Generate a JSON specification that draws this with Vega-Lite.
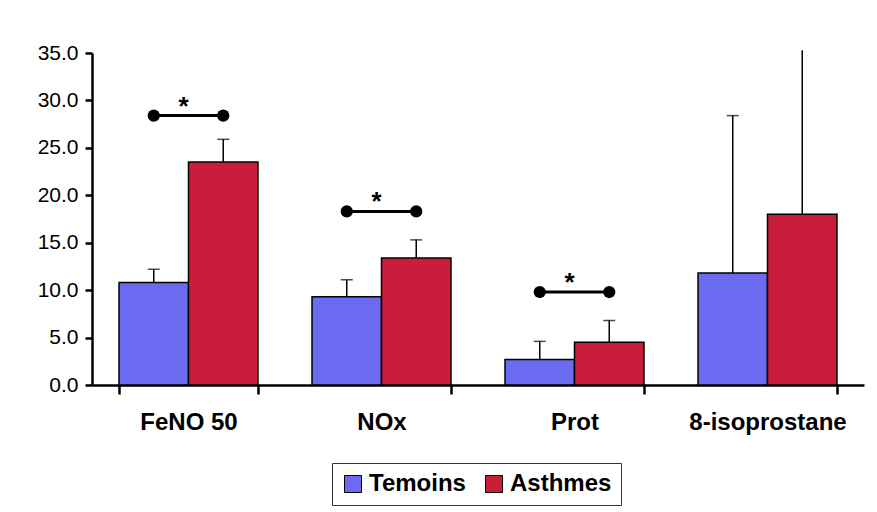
{
  "$schema": "https://vega.github.io/schema/vega-lite/v6.json",
  "width": 772,
  "height": 332,
  "autosize": {"type": "none"},
  "padding": {"left": 92, "top": 53, "right": 13, "bottom": 127},
  "config": {
    "view": {"stroke": null},
    "font": "Liberation Sans",
    "axis": {"grid": false}
  },
  "datasets": {
    "bars": [
      {"cat": "FeNO 50", "group": "Temoins", "mean": 10.8, "upper": 12.2},
      {"cat": "FeNO 50", "group": "Asthmes", "mean": 23.5, "upper": 25.9},
      {"cat": "NOx", "group": "Temoins", "mean": 9.3, "upper": 11.1},
      {"cat": "NOx", "group": "Asthmes", "mean": 13.4, "upper": 15.3},
      {"cat": "Prot", "group": "Temoins", "mean": 2.7, "upper": 4.6},
      {"cat": "Prot", "group": "Asthmes", "mean": 4.5, "upper": 6.8},
      {"cat": "8-isoprostane", "group": "Temoins", "mean": 11.8, "upper": 28.4},
      {"cat": "8-isoprostane", "group": "Asthmes", "mean": 18.0, "upper": 35.3}
    ],
    "sig": [
      {"cat": "FeNO 50", "group": "Temoins", "y": 28.4},
      {"cat": "FeNO 50", "group": "Asthmes", "y": 28.4},
      {"cat": "NOx", "group": "Temoins", "y": 18.3},
      {"cat": "NOx", "group": "Asthmes", "y": 18.3},
      {"cat": "Prot", "group": "Temoins", "y": 9.8},
      {"cat": "Prot", "group": "Asthmes", "y": 9.8}
    ],
    "star": [
      {"cat": "FeNO 50", "y": 28.4, "label": "*"},
      {"cat": "NOx", "y": 18.3, "label": "*"},
      {"cat": "Prot", "y": 9.8, "label": "*"}
    ]
  },
  "encoding": {
    "x": {
      "field": "cat",
      "type": "nominal",
      "sort": ["FeNO 50", "NOx", "Prot", "8-isoprostane"],
      "scale": {"paddingInner": 0.28, "paddingOuter": 0.14},
      "axis": {
        "title": null,
        "labelAngle": 0,
        "labelFontSize": 24,
        "labelFontWeight": "bold",
        "labelColor": "black",
        "labelPadding": 16,
        "domainColor": "black",
        "domainWidth": 2.5,
        "tickColor": "black",
        "tickWidth": 2.5,
        "tickSize": 9,
        "tickBand": "extent"
      }
    }
  },
  "layer": [
    {
      "data": {"name": "bars"},
      "mark": {"type": "bar", "stroke": "black", "strokeWidth": 1.5},
      "encoding": {
        "xOffset": {"field": "group", "sort": ["Temoins", "Asthmes"], "scale": {"paddingInner": 0}},
        "y": {
          "field": "mean",
          "type": "quantitative",
          "scale": {"domain": [0, 35]},
          "axis": {
            "title": null,
            "values": [0, 5, 10, 15, 20, 25, 30, 35],
            "format": ".1f",
            "labelFontSize": 21,
            "labelColor": "black",
            "labelPadding": 7,
            "domainColor": "black",
            "domainWidth": 2.5,
            "tickColor": "black",
            "tickWidth": 2.5,
            "tickSize": 7
          }
        },
        "color": {
          "field": "group",
          "type": "nominal",
          "sort": ["Temoins", "Asthmes"],
          "scale": {"domain": ["Temoins", "Asthmes"], "range": ["#6B6BF2", "#C81E3C"]},
          "legend": {
            "orient": "none",
            "legendX": 240,
            "legendY": 410,
            "direction": "horizontal",
            "title": null,
            "labelFontSize": 24,
            "labelFontWeight": "bold",
            "labelColor": "black",
            "symbolType": "square",
            "symbolSize": 289,
            "symbolStrokeColor": "black",
            "symbolStrokeWidth": 1,
            "symbolOpacity": 1,
            "strokeColor": "#333333",
            "fillColor": "white",
            "padding": 9,
            "columnPadding": 16,
            "labelOffset": 4
          }
        }
      }
    },
    {
      "data": {"name": "bars"},
      "mark": {"type": "rule", "color": "black", "strokeWidth": 1.5},
      "encoding": {
        "xOffset": {"field": "group", "sort": ["Temoins", "Asthmes"]},
        "y": {"field": "mean", "type": "quantitative"},
        "y2": {"field": "upper"}
      }
    },
    {
      "data": {"name": "bars"},
      "transform": [{"filter": "datum.upper <= 35"}],
      "mark": {"type": "tick", "color": "black", "size": 12, "thickness": 1.5},
      "encoding": {
        "xOffset": {"field": "group", "sort": ["Temoins", "Asthmes"]},
        "y": {"field": "upper", "type": "quantitative"}
      }
    },
    {
      "data": {"name": "sig"},
      "mark": {"type": "line", "color": "black", "strokeWidth": 3},
      "encoding": {
        "xOffset": {"field": "group", "sort": ["Temoins", "Asthmes"]},
        "y": {"field": "y", "type": "quantitative"},
        "detail": {"field": "cat"}
      }
    },
    {
      "data": {"name": "sig"},
      "mark": {"type": "point", "shape": "circle", "filled": true, "color": "black", "size": 150, "opacity": 1},
      "encoding": {
        "xOffset": {"field": "group", "sort": ["Temoins", "Asthmes"]},
        "y": {"field": "y", "type": "quantitative"}
      }
    },
    {
      "data": {"name": "star"},
      "mark": {"type": "text", "fontSize": 26, "fontWeight": "bold", "color": "black", "baseline": "middle", "dy": -9, "dx": -5},
      "encoding": {
        "y": {"field": "y", "type": "quantitative"},
        "text": {"field": "label"}
      }
    }
  ]
}
